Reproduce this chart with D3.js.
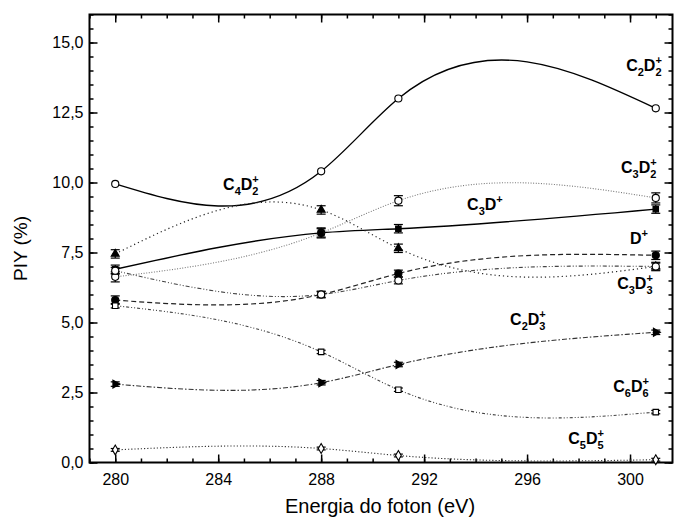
<!DOCTYPE html>
<html><head><meta charset="utf-8">
<script src="https://cdn.jsdelivr.net/npm/d3@7"></script>
<style>body{margin:0;background:#fff}svg{display:block}</style>
</head><body>
<svg id="chart" width="675" height="527"></svg>
<script>
// ---- data ----
const energies = [280, 288, 291, 301];
const xTicks = [280, 284, 288, 292, 296, 300];
const yTicks = [0, 2.5, 5, 7.5, 10, 12.5, 15];
const yTickLabels = ["0,0", "2,5", "5,0", "7,5", "10,0", "12,5", "15,0"];
const seriesNames = ["C2D2+", "C3D2+", "C3D+", "C4D2+", "D+", "C3D3+", "C2D3+", "C6D6+", "C5D5+"];
const C2D2 = [9.95, 10.4, 13.0, 12.65];
const C3D2 = [6.63, 8.2, 9.35, 9.45];
const C3D  = [6.9, 8.2, 8.35, 9.05];
const C4D2 = [7.45, 9.02, 7.65, 7.0];
const Dp   = [5.8, 6.0, 6.75, 7.4];
const C3D3 = [6.85, 6.0, 6.5, 7.0];
const C2D3 = [2.8, 2.85, 3.5, 4.65];
const C6D6 = [5.6, 3.95, 2.6, 1.8];
const C5D5 = [0.45, 0.5, 0.25, 0.1];
const errC2D2 = [0, 0, 0, 0];
const errC3D2 = [0.18, 0.18, 0.18, 0.18];
const errC3D  = [0.15, 0.15, 0.15, 0.15];
const errC4D2 = [0.15, 0.15, 0.15, 0.15];
const errDp   = [0.15, 0.12, 0.12, 0.15];
const errC3D3 = [0.12, 0.1, 0.12, 0.12];
const errC2D3 = [0.08, 0.08, 0.08, 0.08];
const errC6D6 = [0.08, 0.06, 0.06, 0.06];
const errC5D5 = [0.05, 0.05, 0.05, 0.05];
// label anchor positions (data coordinates): energy, value
const labelX = [299.85, 299.65, 293.67, 284.19, 300.0, 299.5, 295.34, 299.35, 297.6];
const labelY = [13.98, 10.34, 9.02, 9.73, 7.80, 6.20, 4.91, 2.52, 0.66];

// ---- styles ----
const values = [C2D2, C3D2, C3D, C4D2, Dp, C3D3, C2D3, C6D6, C5D5];
const errs = [errC2D2, errC3D2, errC3D, errC4D2, errDp, errC3D3, errC2D3, errC6D6, errC5D5];
const styles = [
  {dash: null, color: "#000", w: 1.4, marker: "circle", fill: "#fff"},
  {dash: "1,1.6", color: "#777", w: 1.1, marker: "circle", fill: "#fff"},
  {dash: null, color: "#000", w: 1.4, marker: "square", fill: "#000"},
  {dash: "1.2,3", color: "#222", w: 1.2, marker: "triangle", fill: "#000"},
  {dash: "5,3", color: "#222", w: 1.2, marker: "circle", fill: "#000"},
  {dash: "4,2,1,2,1,2", color: "#444", w: 1.1, marker: "circle", fill: "#fff"},
  {dash: "5,2,1.5,2", color: "#333", w: 1.1, marker: "triRight", fill: "#000"},
  {dash: "3,2,1,2,1,2", color: "#444", w: 1.1, marker: "square", fill: "#fff"},
  {dash: "1.2,2", color: "#333", w: 1.1, marker: "diamond", fill: "#fff"}
];

const FONT = "Liberation Sans, Arial, sans-serif";
const svg = d3.select("#chart");
const L = 89.5, R = 672.5, T = 14.5, B = 462.5;
const x = d3.scaleLinear().domain([279, 301.65]).range([L, R]);
const y = d3.scaleLinear().domain([0, 16]).range([B, T]);

// natural cubic spline y(x) as a d3 curve
function curveSplineX(context) {
  let xs, ys;
  return {
    areaStart() {}, areaEnd() {},
    lineStart() { xs = []; ys = []; },
    point(px, py) { xs.push(+px); ys.push(+py); },
    lineEnd() {
      const n = xs.length;
      if (!n) return;
      context.moveTo(xs[0], ys[0]);
      if (n < 3) { for (let i = 1; i < n; i++) context.lineTo(xs[i], ys[i]); return; }
      const h = [], s = [];
      for (let i = 0; i < n - 1; i++) { h.push(xs[i+1]-xs[i]); s.push((ys[i+1]-ys[i])/h[i]); }
      const M = new Array(n).fill(0);
      const m = n - 2, a = [], b = [], c = [], d = [];
      for (let i = 1; i <= m; i++) {
        a.push(h[i-1]); b.push(2*(h[i-1]+h[i])); c.push(h[i]); d.push(6*(s[i]-s[i-1]));
      }
      for (let i = 1; i < m; i++) { const w = a[i]/b[i-1]; b[i] -= w*c[i-1]; d[i] -= w*d[i-1]; }
      const sol = new Array(m);
      sol[m-1] = d[m-1]/b[m-1];
      for (let i = m-2; i >= 0; i--) sol[i] = (d[i]-c[i]*sol[i+1])/b[i];
      for (let i = 0; i < m; i++) M[i+1] = sol[i];
      for (let i = 0; i < n - 1; i++) {
        const d0 = s[i] - h[i]*(2*M[i]+M[i+1])/6;
        const d1 = s[i] + h[i]*(M[i]+2*M[i+1])/6;
        context.bezierCurveTo(xs[i]+h[i]/3, ys[i]+d0*h[i]/3, xs[i+1]-h[i]/3, ys[i+1]-d1*h[i]/3, xs[i+1], ys[i+1]);
      }
    }
  };
}

const line = d3.line().x(d => x(d[0])).y(d => y(d[1])).curve(curveSplineX);

// axes (ticks inward)
const minorX = d3.range(279, 302, 1);
const minorY = d3.range(0, 16.01, 0.5);
const axG = svg.append("g");
function addAxis(axisFn, scale, vals, size, transform, labels, pad) {
  const ax = axisFn(scale).tickValues(vals).tickSize(-size).tickPadding(pad || 3);
  ax.tickFormat(labels || (() => ""));
  const g = axG.append("g").attr("transform", transform).call(ax);
  g.select(".domain").remove();
  if (!labels) g.selectAll(".tick text").remove();
  return g;
}
addAxis(d3.axisBottom, x, minorX, 4, `translate(0,${B})`);
addAxis(d3.axisBottom, x, xTicks, 8, `translate(0,${B})`, d3.format("d"), 11);
addAxis(d3.axisTop, x, minorX, 4, `translate(0,${T})`);
addAxis(d3.axisTop, x, xTicks, 8, `translate(0,${T})`);
addAxis(d3.axisLeft, y, minorY, 4, `translate(${L},0)`);
addAxis(d3.axisLeft, y, yTicks, 8, `translate(${L},0)`, (d, i) => yTickLabels[i], 6);
addAxis(d3.axisRight, y, minorY, 4, `translate(${R},0)`);
addAxis(d3.axisRight, y, yTicks, 8, `translate(${R},0)`);
svg.selectAll(".tick line").attr("stroke", "#000").attr("stroke-width", 1.5);
svg.selectAll(".tick text").attr("font-family", FONT).attr("font-size", 16).attr("fill", "#000");

svg.append("rect").attr("x", L).attr("y", T).attr("width", R - L).attr("height", B - T)
  .attr("fill", "none").attr("stroke", "#000").attr("stroke-width", 2);

// series
const plot = svg.append("g");
values.forEach((vals, si) => {
  const st = styles[si];
  const pts = energies.map((e, i) => [e, vals[i]]);
  plot.append("path").datum(pts).attr("d", line).attr("fill", "none")
    .attr("stroke", st.color).attr("stroke-width", st.w)
    .attr("stroke-dasharray", st.dash);
});
values.forEach((vals, si) => {
  const st = styles[si];
  const g = plot.append("g");
  energies.forEach((e, i) => {
    const cx = x(e), cy = y(vals[i]), er = errs[si][i];
    if (er > 0) {
      const y0 = y(vals[i] - er), y1 = y(vals[i] + er);
      g.append("line").attr("x1", cx).attr("x2", cx).attr("y1", y0).attr("y2", y1).attr("stroke", "#000").attr("stroke-width", 1.2);
      g.append("line").attr("x1", cx - 4.5).attr("x2", cx + 4.5).attr("y1", y0).attr("y2", y0).attr("stroke", "#000").attr("stroke-width", 1.2);
      g.append("line").attr("x1", cx - 4.5).attr("x2", cx + 4.5).attr("y1", y1).attr("y2", y1).attr("stroke", "#000").attr("stroke-width", 1.2);
    }
    let sym;
    if (st.marker === "circle") sym = d3.symbol(d3.symbolCircle, 40);
    else if (st.marker === "square") sym = d3.symbol(d3.symbolSquare, 30);
    else if (st.marker === "triangle") sym = d3.symbol(d3.symbolTriangle, 28);
    else if (st.marker === "diamond") sym = d3.symbol(d3.symbolDiamond, 28);
    else sym = d3.symbol(d3.symbolTriangle, 28);
    const rot = st.marker === "triRight" ? 90 : 0;
    g.append("path").attr("d", sym()).attr("transform", `translate(${cx},${cy}) rotate(${rot})`)
      .attr("fill", st.fill).attr("stroke", "#000").attr("stroke-width", 1.1);
  });
});

// labels (chemical formulas with stacked sub/superscript)
const MAIN = 16, SUB = 11;
const labG = svg.append("g").attr("font-family", FONT).attr("font-weight", "bold").attr("fill", "#000");
seriesNames.forEach((name, si) => {
  const t = labG.append("text").attr("x", x(labelX[si])).attr("y", y(labelY[si])).attr("font-size", MAIN);
  const parts = name.replace("+", "").match(/[A-Z]\d*/g);
  let pendingDy = 0, lastSub = false;
  parts.forEach(p => {
    const letter = p[0], num = p.slice(1);
    t.append("tspan").text(letter).attr("font-size", MAIN).attr("dy", pendingDy || null);
    pendingDy = 0;
    if (num) {
      t.append("tspan").text(num).attr("font-size", SUB).attr("dy", 5);
      pendingDy = -5; lastSub = true;
    } else lastSub = false;
  });
  t.append("tspan").text("+").attr("font-size", SUB)
    .attr("dx", lastSub ? -6.1 : 0).attr("dy", pendingDy - 7);
});

// axis titles
svg.append("text").attr("x", (L + R) / 2 - 1).attr("y", 513).attr("text-anchor", "middle")
  .attr("font-family", FONT).attr("font-size", 20).text("Energia do foton (eV)");
svg.append("text").attr("transform", `translate(27,${(T + B) / 2 + 10}) rotate(-90)`).attr("text-anchor", "middle")
  .attr("font-family", FONT).attr("font-size", 19).text("PIY (%)");
</script>
</body></html>
